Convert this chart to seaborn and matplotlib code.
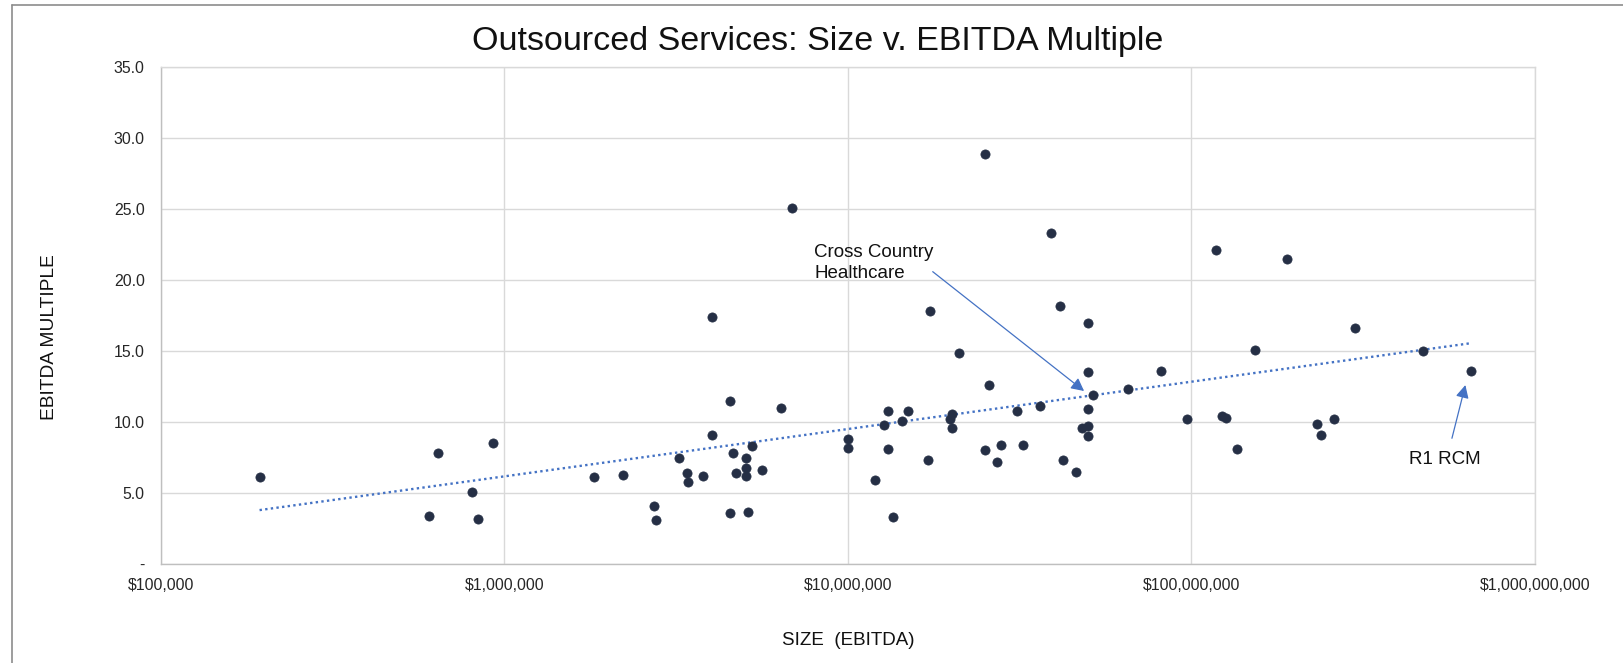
import matplotlib
matplotlib.use("Agg")
import matplotlib.pyplot as plt
from matplotlib.lines import Line2D
from matplotlib.ticker import FixedLocator, FuncFormatter, NullLocator
import numpy as np
import pandas as pd
import seaborn as sns

# Deal size (EBITDA, USD) and the EBITDA multiple paid
size_ebitda = [
    1.94e5, 6.05e5, 6.41e5, 8.05e5, 8.36e5, 9.25e5,
    1.82e6, 2.21e6, 2.72e6, 2.77e6, 3.23e6, 3.40e6, 3.42e6, 3.79e6,
    4.03e6, 4.03e6, 4.54e6, 4.62e6, 4.54e6, 4.74e6, 5.07e6, 5.04e6,
    5.04e6, 5.25e6, 5.12e6, 5.61e6, 6.39e6, 6.90e6,
    1.00e7, 1.00e7, 1.20e7, 1.27e7, 1.31e7, 1.31e7, 1.35e7, 1.44e7,
    1.50e7, 1.71e7, 1.73e7, 2.01e7, 1.98e7, 2.01e7, 2.11e7, 2.51e7,
    2.51e7, 2.57e7, 2.79e7, 2.71e7, 3.10e7, 3.24e7, 3.62e7, 3.91e7,
    4.15e7, 4.22e7, 4.60e7, 4.80e7, 5.01e7, 5.01e7, 5.01e7, 5.01e7,
    5.01e7, 5.17e7, 6.52e7, 8.13e7, 9.73e7,
    1.18e8, 1.23e8, 1.26e8, 1.36e8, 1.53e8, 1.90e8, 2.32e8, 2.38e8,
    2.60e8, 2.99e8, 4.72e8, 6.49e8,
]
ebitda_multiple = [
    6.1, 3.4, 7.8, 5.1, 3.2, 8.5,
    6.1, 6.3, 4.1, 3.1, 7.5, 6.4, 5.8, 6.2,
    9.1, 17.4, 11.5, 7.8, 3.6, 6.4, 7.5, 6.8,
    6.2, 8.3, 3.7, 6.6, 11.0, 25.1,
    8.8, 8.2, 5.9, 9.8, 10.8, 8.1, 3.3, 10.1,
    10.8, 7.3, 17.8, 10.6, 10.2, 9.6, 14.9, 8.0,
    28.9, 12.6, 8.4, 7.2, 10.8, 8.4, 11.1, 23.3,
    18.2, 7.3, 6.5, 9.6, 9.7, 9.0, 10.9, 13.5,
    17.0, 11.9, 12.3, 13.6, 10.2,
    22.1, 10.4, 10.3, 8.1, 15.1, 21.5, 9.9, 9.1,
    10.2, 16.6, 15.0, 13.6,
]

# Axis ticks
x_ticks = [1e5, 1e6, 1e7, 1e8, 1e9]
y_ticks = [0, 5, 10, 15, 20, 25, 30, 35]

# Labelled companies: (label, arrow tip, arrow tail, text anchor, alignment)
callouts = [
    ("Cross Country\nHealthcare", (4.87e7, 12.19), (1.766e7, 20.6), (7.98e6, 21.2), "left"),
    ("R1 RCM", (6.27e8, 12.61), (5.73e8, 8.86), (5.47e8, 7.33), "center"),
]

df = pd.DataFrame({"size": size_ebitda, "multiple": ebitda_multiple})

sns.set_theme(style="whitegrid")
plt.rcParams["font.family"] = ["Liberation Sans", "DejaVu Sans"]

GRID = "#D9D9D9"
AXIS = "#BFBFBF"
DOT = "#252F45"
TREND = "#4472C4"

fig, ax = plt.subplots(figsize=(16.23, 6.63), dpi=100)
fig.patch.set_facecolor("white")
fig.subplots_adjust(left=0.0990, right=0.9458, bottom=0.1493, top=0.8985)

ax.set_xscale("log")

# Logarithmic trendline: multiple ~ ln(size)
sns.regplot(data=df, x="size", y="multiple", logx=True, scatter=False, ci=None,
            truncate=True, ax=ax,
            line_kws=dict(color=TREND, lw=1.7, linestyle=(0, (1, 1.4))))

sns.scatterplot(data=df, x="size", y="multiple", ax=ax, s=44, color=DOT,
                edgecolor=DOT, linewidth=0.5, zorder=4)

ax.set_xlim(1e5, 1e9)
ax.set_ylim(0, 35)
ax.xaxis.set_major_locator(FixedLocator(x_ticks))
ax.xaxis.set_minor_locator(NullLocator())
ax.yaxis.set_major_locator(FixedLocator(y_ticks))
ax.xaxis.set_major_formatter(FuncFormatter(lambda v, p: f"${v:,.0f}"))
ax.yaxis.set_major_formatter(FuncFormatter(lambda v, p: "-" if v == 0 else f"{v:.1f}"))

ax.grid(True, which="major", color=GRID, lw=1.0)
ax.set_axisbelow(True)
for side in ("top", "right"):
    ax.spines[side].set_color(GRID)
    ax.spines[side].set_linewidth(1.0)
for side in ("bottom", "left"):
    ax.spines[side].set_color(AXIS)
    ax.spines[side].set_linewidth(1.0)

ax.tick_params(axis="both", length=0, labelsize=11.4, colors="#262626")
ax.tick_params(axis="y", pad=11.5)
ax.tick_params(axis="x", pad=10)

ax.set_xlabel("SIZE  (EBITDA)", fontsize=13.5, color="#111111")
ax.xaxis.set_label_coords(0.5, -0.153)
ax.xaxis.label.set_va("center")
ax.set_ylabel("EBITDA MULTIPLE", fontsize=13.8, color="#111111", va="center")
ax.yaxis.set_label_coords(-0.0806, 0.457)

fig.text(0.504, 1 - 50 / 663, "Outsourced Services: Size v. EBITDA Multiple",
         ha="center", va="baseline", fontsize=24.5, color="#111111")

for label, tip, tail, anchor, ha in callouts:
    ax.annotate("", xy=tip, xytext=tail,
                arrowprops=dict(arrowstyle="-|>,head_length=0.55,head_width=0.28",
                                color=TREND, lw=0.9, mutation_scale=14,
                                shrinkA=0, shrinkB=0), zorder=5)
    ax.text(anchor[0], anchor[1], label, ha=ha, va="center", fontsize=13.5,
            color="#111111", linespacing=1.3, zorder=5)

# Outer chart frame (top and left edges)
fx = 12 / 1623
fy = 1 - 5 / 663
fig.add_artist(Line2D([fx, fx], [0, fy], transform=fig.transFigure, color="#8C8C8C", lw=1.2))
fig.add_artist(Line2D([fx, 1], [fy, fy], transform=fig.transFigure, color="#8C8C8C", lw=1.2))

fig.savefig("out.png", dpi=100, facecolor="white")
